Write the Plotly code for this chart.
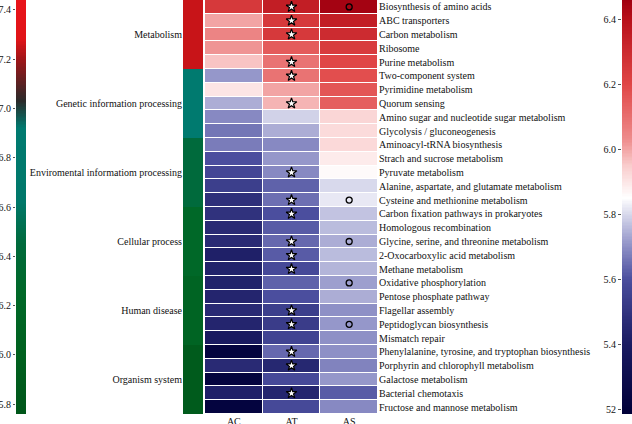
import numpy as np
import plotly.graph_objects as go

# ---------------- data ----------------
pathways = [
    "Biosynthesis of amino acids", "ABC transporters", "Carbon metabolism", "Ribosome",
    "Purine metabolism", "Two-component system", "Pyrimidine metabolism", "Quorum sensing",
    "Amino sugar and nucleotide sugar metabolism", "Glycolysis / gluconeogenesis",
    "Aminoacyl-tRNA biosynthesis", "Strach and sucrose metabolism", "Pyruvate metabolism",
    "Alanine, aspartate, and glutamate metabolism", "Cysteine and methionine metabolism",
    "Carbon fixation pathways in prokaryotes", "Homologous recombination",
    "Glycine, serine, and threonine metabolism", "2-Oxocarboxylic acid metabolism",
    "Methane metabolism", "Oxidative phosphorylation", "Pentose phosphate pathway",
    "Flagellar assembly", "Peptidoglycan biosynthesis", "Mismatch repair",
    "Phenylalanine, tyrosine, and tryptophan biosynthesis",
    "Porphyrin and chlorophyll metabolism", "Galactose metabolism",
    "Bacterial chemotaxis", "Fructose and mannose metabolism",
]
samples = ["AC", "AT", "AS"]
ac_vals = [6.25, 6.00, 6.05, 6.02, 5.96, 5.71, 5.90, 5.74, 5.69, 5.66, 5.67, 5.60, 5.57, 5.54, 5.48,
           5.49, 5.46, 5.46, 5.42, 5.43, 5.43, 5.44, 5.46, 5.44, 5.39, 5.22, 5.46, 5.22, 5.42, 5.22]
at_vals = [6.35, 6.25, 6.25, 6.15, 6.09, 6.09, 6.00, 5.98, 5.79, 5.74, 5.69, 5.71, 5.69, 5.63, 5.65,
           5.60, 5.62, 5.64, 5.62, 5.58, 5.63, 5.60, 5.54, 5.53, 5.56, 5.64, 5.45, 5.58, 5.44, 5.58]
as_vals = [6.45, 6.35, 6.30, 6.24, 6.20, 6.18, 6.16, 6.14, 5.93, 5.92, 5.925, 5.89, 5.86, 5.80, 5.82,
           5.77, 5.76, 5.74, 5.76, 5.75, 5.72, 5.74, 5.70, 5.71, 5.70, 5.70, 5.68, 5.71, 5.62, 5.69]
star_rows_AT = [0, 1, 2, 4, 5, 7, 12, 14, 15, 17, 18, 19, 22, 23, 25, 26, 28]
circle_rows_AS = [0, 14, 17, 20, 23]

categories = ["Metabolism", "Genetic information processing", "Enviromental informatiom processing",
              "Cellular process", "Human disease", "Organism system"]
category_values = [7.25, 6.88, 6.45, 6.25, 6.1, 5.86]
rows_per_category = [5, 5, 5, 5, 5, 5]

left_cb_range = [5.76, 7.44]
left_cb_ticks = [5.8, 6.0, 6.2, 6.4, 6.6, 6.8, 7.0, 7.2, 7.4]
left_cb_ticktext = ["5.8", "6.0", "6.2", "6.4", "6.6", "6.8", "7.0", "7.2", "7.4"]
right_cb_range = [5.185, 6.46]
right_cb_ticks = [5.2, 5.4, 5.6, 5.8, 6.0, 6.2, 6.4]
right_cb_ticktext = ["52", "5.4", "5.6", "5.8", "6.0", "6.2", "6.4"]

# ---------------- colours ----------------
def norm_scale(stops, lo, hi):
    return [[(v - lo) / (hi - lo), c] for v, c in stops]

main_scale = norm_scale([
    (5.185, "#000038"), (5.4, "#1a1b62"), (5.6, "#4b4e9e"), (5.7, "#8e90c6"),
    (5.8, "#d8d9ec"), (5.85, "#ffffff"), (5.95, "#f9cccc"), (6.03, "#ee8c8c"),
    (6.2, "#e04646"), (6.4, "#b8101a"), (6.46, "#a00010"),
], *right_cb_range)

cat_scale = norm_scale([
    (5.76, "#00561a"), (6.0, "#00611f"), (6.25, "#006828"), (6.45, "#006a3c"),
    (6.62, "#00786a"), (6.92, "#007a70"), (7.03, "#2a2a2a"), (7.2, "#a01518"),
    (7.28, "#e01418"), (7.44, "#e8141a"),
], *left_cb_range)

FONT = "Liberation Serif"
n = len(pathways)
rows = list(range(n))
ydom = [1 - 414 / 424, 1]

fig = go.Figure()

# main heatmap
z = [[a, t, s] for a, t, s in zip(ac_vals, at_vals, as_vals)]
fig.add_trace(go.Heatmap(z=z, x=samples, y=rows, colorscale=main_scale,
                         zmin=right_cb_range[0], zmax=right_cb_range[1],
                         xgap=1, ygap=1, showscale=False, xaxis="x", yaxis="y"))
fig.add_trace(go.Scatter(x=["AT"] * len(star_rows_AT), y=star_rows_AT, mode="markers",
                         marker=dict(symbol="star", size=8, color="white",
                                     line=dict(color="black", width=1.2)),
                         xaxis="x", yaxis="y", showlegend=False, hoverinfo="skip"))
fig.add_trace(go.Scatter(x=["AS"] * len(circle_rows_AS), y=circle_rows_AS, mode="markers",
                         marker=dict(symbol="circle-open", size=6, color="black",
                                     line=dict(color="black", width=1.3)),
                         xaxis="x", yaxis="y", showlegend=False, hoverinfo="skip"))

# category column
cat_z = []
for v, k in zip(category_values, rows_per_category):
    cat_z += [[v]] * k
fig.add_trace(go.Heatmap(z=cat_z, x=[0], y=rows, colorscale=cat_scale,
                         zmin=left_cb_range[0], zmax=left_cb_range[1],
                         showscale=False, xaxis="x2", yaxis="y2", hoverinfo="skip"))
cat_centers = []
start = 0
for k in rows_per_category:
    cat_centers.append(start + (k - 1) / 2)
    start += k

# left colour bar (gradient of the category scale)
lg = np.linspace(left_cb_range[0], left_cb_range[1], 300)
fig.add_trace(go.Heatmap(z=[[v] for v in lg], x=[0], y=lg, colorscale=cat_scale,
                         zmin=left_cb_range[0], zmax=left_cb_range[1],
                         showscale=False, xaxis="x3", yaxis="y3", hoverinfo="skip"))
# right colour bar (gradient of the main scale)
rg = np.linspace(right_cb_range[0], right_cb_range[1], 300)
fig.add_trace(go.Heatmap(z=[[v] for v in rg], x=[0], y=rg, colorscale=main_scale,
                         zmin=right_cb_range[0], zmax=right_cb_range[1],
                         showscale=False, xaxis="x4", yaxis="y4", hoverinfo="skip"))

tf = dict(family=FONT, size=10, color="#111111")
hidden_x = dict(showticklabels=False, showgrid=False, zeroline=False, showline=False,
                ticks="", range=[-0.5, 0.5], fixedrange=True, automargin=False)

fig.update_layout(
    width=632, height=424, template="none",
    margin=dict(l=0, r=0, t=0, b=0),
    paper_bgcolor="white", plot_bgcolor="white", showlegend=False,
    font=tf,
    xaxis=dict(domain=[205 / 632, 378 / 632], anchor="y", side="bottom", showgrid=False,
               zeroline=False, showline=False, ticks="", tickfont=tf, automargin=False,
               range=[-0.5, 2.5]),
    yaxis=dict(domain=ydom, anchor="x", side="right", range=[n - 0.5, -0.5],
               tickvals=rows, ticktext=pathways, showgrid=False, zeroline=False,
               showline=False, ticks="", tickfont=tf, automargin=False),
    xaxis2=dict(domain=[183 / 632, 203 / 632], anchor="y2", **hidden_x),
    yaxis2=dict(domain=ydom, anchor="x2", side="left", range=[n - 0.5, -0.5],
                tickvals=cat_centers, ticktext=categories, showgrid=False, zeroline=False,
                showline=False, ticks="", tickfont=tf, automargin=False),
    xaxis3=dict(domain=[16 / 632, 26 / 632], anchor="y3", **hidden_x),
    yaxis3=dict(domain=ydom, anchor="x3", side="left", range=left_cb_range,
                tickvals=left_cb_ticks, ticktext=left_cb_ticktext, showgrid=False,
                zeroline=False, showline=False, ticks="outside", ticklen=2, tickwidth=1,
                tickcolor="#555555", tickfont=tf, automargin=False),
    xaxis4=dict(domain=[622 / 632, 1], anchor="y4", **hidden_x),
    yaxis4=dict(domain=ydom, anchor="x4", side="left", range=right_cb_range,
                tickvals=right_cb_ticks, ticktext=right_cb_ticktext, showgrid=False,
                zeroline=False, showline=False, ticks="outside", ticklen=3, tickwidth=1,
                tickcolor="#555555", tickfont=tf, automargin=False),
)

fig.write_html("out.html", config={"displayModeBar": False},
               post_script="document.body.style.margin='0';document.body.style.overflow='hidden';")
